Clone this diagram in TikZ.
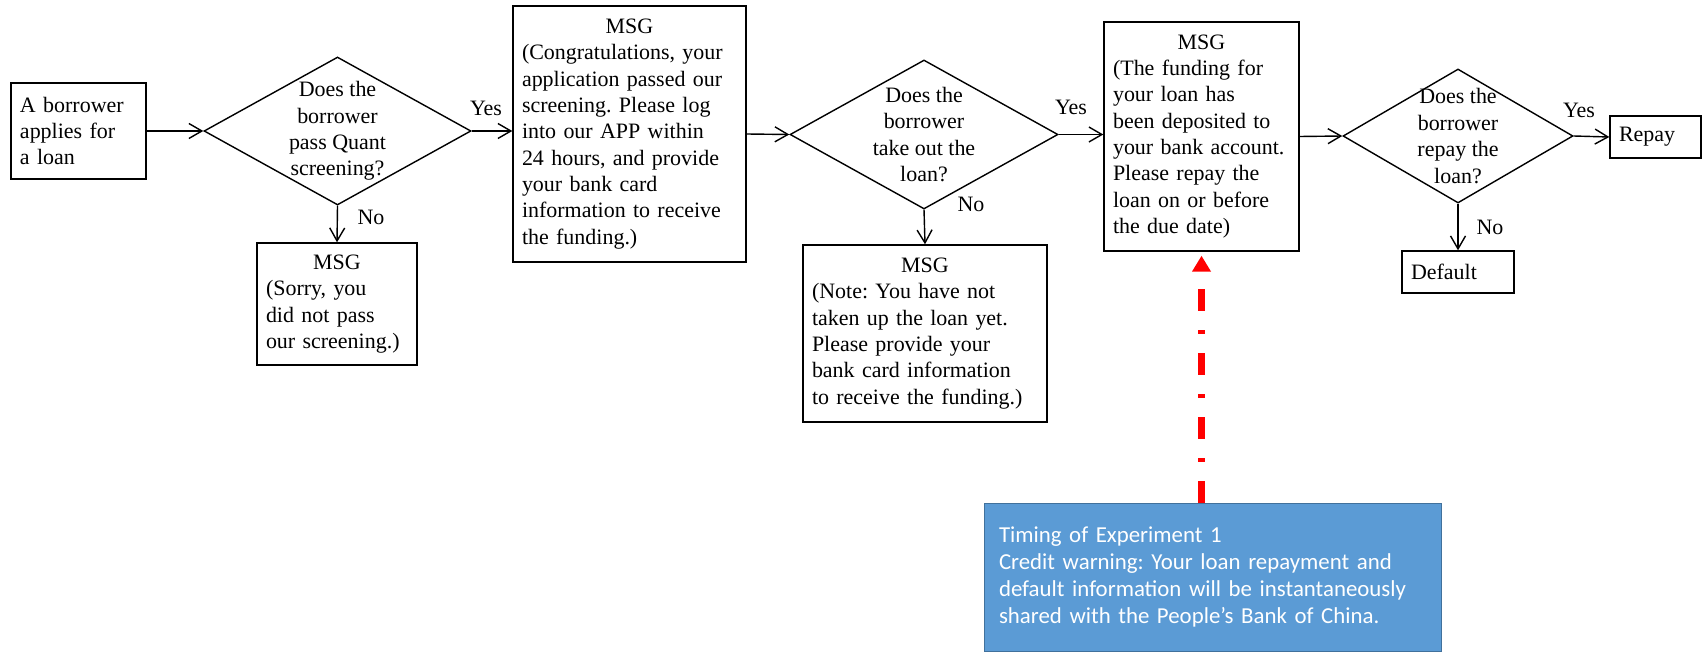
\documentclass[tikz,border=0pt]{standalone}
\usepackage{fontspec}
\setmainfont{Liberation Serif}
\newfontfamily\warnfont{Carlito}
\usetikzlibrary{shapes.geometric, arrows.meta}
\definecolor{warnblue}{HTML}{5B9BD5}
\definecolor{warnedge}{HTML}{41719C}
\definecolor{warnred}{HTML}{FF0000}
\frenchspacing
\hyphenpenalty=10000

\begin{document}
\begin{tikzpicture}[x=0.2mm, y=-0.2mm,
  font=\fontsize{12.5pt}{15pt}\selectfont,
  >={Straight Barb[length=2.6mm,width=3mm]},
  box/.style={draw, thick, align=left, inner xsep=1.8mm, inner ysep=0.4mm},
  ask/.style={shape=diamond, draw, thick, inner sep=0pt},
  warnbox/.style={draw=warnedge, fill=warnblue, text=white, align=left,
    font=\warnfont\fontsize{13pt}{15.4pt}\selectfont, inner xsep=3mm}]
\useasboundingbox (0,0) rectangle (1703,652);

% main row
\node[box, text width=23.4mm, minimum height=19.2mm] (A) at (78.5,131) {A borrower\\applies for\\a loan};
\node[ask, minimum width=53.4mm, minimum height=29.6mm,
  label={[align=center]center:Does the\\borrower\\pass Quant\\screening?}] (Q1) at (337.5,131) {};
\node[box, text width=43mm, minimum height=51.2mm] (M2) at (629.5,134)
  {{\centering MSG\par}(Congratulations, your\\application passed our\\screening. Please log\\into our APP within\\24 hours, and provide\\your bank card\\information to receive\\the funding.)};
\node[ask, minimum width=53.6mm, minimum height=29.8mm,
  label={[align=center]center:Does the\\borrower\\take out the\\loan?}] (Q2) at (924,134.5) {};
\node[box, text width=35.4mm, minimum height=45.8mm] (M3) at (1201.5,136.5)
  {{\centering MSG\par}(The funding for\\your loan has\\been deposited to\\your bank account.\\Please repay the\\loan on or before\\the due date)};
\node[ask, minimum width=46mm, minimum height=26.8mm,
  label={[align=center]center:Does the\\borrower\\repay the\\loan?}] (Q3) at (1458,136) {};
\node[box, text width=14.6mm, minimum height=8.4mm] (Repay) at (1655.5,137) {Repay};

% "No" branches
\node[box, text width=28.4mm, minimum height=24.4mm] (M1) at (337,304)
  {{\centering MSG\par}(Sorry, you\\did not pass\\our screening.)};
\node[box, text width=45.2mm, minimum height=35.4mm] (M4) at (925,333.5)
  {{\centering MSG\par}(Note: You have not\\taken up the loan yet.\\Please provide your\\bank card information\\to receive the funding.)};
\node[box, text width=18.8mm, minimum height=8.4mm] (Default) at (1458,272) {Default};

% experiment timing
\node[warnbox, text width=85.4mm, minimum height=29.6mm] (Warn) at (1212.5,577)
  {Timing of Experiment 1\\Credit warning: Your loan repayment and\\default information will be instantaneously\\shared with the People’s Bank of China.};

% branch labels
\node (Yes1) at (486,108) {Yes};
\node (No1) at (371,217) {No};
\node (Yes2) at (1071,107) {Yes};
\node (No2) at (971,204) {No};
\node (Yes3) at (1579,110) {Yes};
\node (No3) at (1490,227) {No};

\draw[->, thick] (A.east) -- (Q1.west);
\draw[->, thick] (Q1.east) -- (Q1.east -| M2.west);
\draw[->, thick] (M2.east) -- (Q2.west);
\draw[->, thick] (Q2.east) -- (Q2.east -| M3.west);
\draw[->, thick] (M3.east) -- (Q3.west);
\draw[->, thick] (Q3.east) -- (Repay.west);
\draw[->, thick] (Q1.south) -- (M1.north);
\draw[->, thick] (Q2.south) -- (M4.north);
\draw[->, thick] (Q3.south) -- (Default.north);
\draw[warnred, line width=1.4mm, dash pattern=on 4.4mm off 3.8mm on 0.8mm off 3.8mm,
  -{Triangle[length=3.2mm,width=3.6mm]}, shorten >=0.8mm] (Warn.north -| M3.south) -- (M3.south);
\end{tikzpicture}
\end{document}
